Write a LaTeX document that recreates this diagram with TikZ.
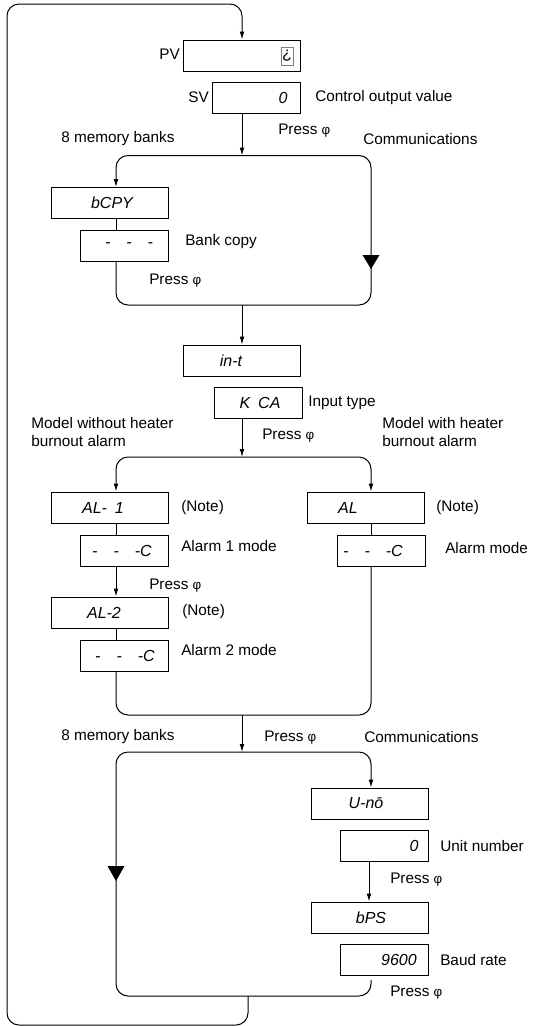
\documentclass[tikz,border=0pt]{standalone}
\usepackage{fontspec}
\setmainfont{Liberation Sans}
\newfontfamily\segfont{Liberation Sans}
\usetikzlibrary{arrows.meta}
\newcommand{\keysym}{{\fontsize{10}{10}\selectfont φ}}
\begin{document}
\begin{tikzpicture}[x=0.75pt,y=-0.75pt,
  font=\fontsize{11.5}{13.5}\selectfont,
  box/.style={draw, line width=0.75pt, inner sep=0pt, minimum height={31*0.75pt}},
  wbox/.style={box, minimum width={117*0.75pt}},
  nbox/.style={box, minimum width={88*0.75pt}},
  seg/.style={inner sep=0pt, font=\segfont\itshape\fontsize{12}{12}\selectfont},
  lbl/.style={inner sep=0pt, anchor=west},
  conn/.style={line width=0.75pt, rounded corners=9pt},
  arr/.style={conn, -{Latex[length=6pt,width=3.6pt]}},
  bigtri/.style={fill=black}
]
\useasboundingbox (0,0) rectangle (543,1026);

% ---------- boxes ----------
\node[wbox] (PV) at (242,55.5) {};
\node[draw=gray, line width=0.6pt, inner sep=0pt, minimum width={12*0.75pt}, minimum height={18*0.75pt}, font=\fontsize{12}{12}\selectfont] (icon) at (287,56) {¿};
\node[nbox] (SV) at (256,98) {};
\node[seg] (SVv) at (283,98) {0};

\node[wbox] (bCPY) at (109.5,203) {};
\node[seg] (bCPYt) at (112,203) {bCPY};
\node[nbox] (bank) at (124.5,245.5) {};
\node[seg] (bankt) at (129,245.5) {-\quad-\quad-};

\node[wbox] (int) at (242,360.5) {};
\node[seg] (intt) at (231,360.5) {in-t};
\node[nbox] (KCA) at (258,403) {};
\node[seg] (KCAt) at (260,403) {K\enspace CA};

\node[wbox] (AL1) at (109.5,507.5) {};
\node[seg] (AL1t) at (103,507.5) {AL-\enspace 1};
\node[nbox] (AC1) at (124.5,550.5) {};
\node[seg] (AC1t) at (122,550.5) {-\quad-\quad-C};
\node[wbox] (AL) at (366,507.5) {};
\node[seg] (ALt) at (348,507.5) {AL};
\node[nbox] (ACr) at (381,550.5) {};
\node[seg] (ACrt) at (373,550.5) {-\quad-\quad-C};
\node[wbox] (AL2) at (109.5,612.5) {};
\node[seg] (AL2t) at (104,612.5) {AL-2};
\node[nbox] (AC2) at (124.5,655.5) {};
\node[seg] (AC2t) at (125,655.5) {-\quad-\quad-C};

\node[wbox] (Uno) at (369.5,803.5) {};
\node[seg] (Unot) at (366,803.5) {U-nō};
\node[nbox] (Unum) at (384,845.5) {};
\node[seg] (Unumt) at (414,845.5) {0};
\node[wbox] (bPS) at (369.5,917.5) {};
\node[seg] (bPSt) at (371,917.5) {bPS};
\node[nbox] (baud) at (384,959.5) {};
\node[seg] (baudt) at (399,959.5) {9600};

% ---------- labels ----------
\node[inner sep=0pt, anchor=east] (lPV) at (180,54) {PV};
\node[inner sep=0pt, anchor=east] (lSV) at (209,97) {SV};
\node[lbl] (l1) at (315,98) {Control output value};
\node[lbl] (p1) at (278,131) {Press \keysym};
\node[lbl] (m1) at (61,139) {8 memory banks};
\node[lbl] (c1) at (363,139) {Communications};
\node[lbl] (l2) at (185,242) {Bank copy};
\node[lbl] (p2) at (149,281) {Press \keysym};
\node[lbl] (l3) at (308,403) {Input type};
\node[lbl, align=left] (l4) at (31,432) {Model without heater\\burnout alarm};
\node[lbl] (p3) at (262,436) {Press \keysym};
\node[lbl, align=left] (l5) at (382,432) {Model with heater\\burnout alarm};
\node[lbl] (n1) at (181,508) {(Note)};
\node[lbl] (n2) at (436,508) {(Note)};
\node[lbl] (l6) at (181,546) {Alarm 1 mode};
\node[lbl] (l7) at (445,548) {Alarm mode};
\node[lbl] (p4) at (149,586) {Press \keysym};
\node[lbl] (n3) at (182,612) {(Note)};
\node[lbl] (l8) at (181,650) {Alarm 2 mode};
\node[lbl] (m2) at (61,737) {8 memory banks};
\node[lbl] (p5) at (264,738) {Press \keysym};
\node[lbl] (c2) at (364,737) {Communications};
\node[lbl] (l9) at (440,846) {Unit number};
\node[lbl] (p6) at (390,880) {Press \keysym};
\node[lbl] (l10) at (440,960) {Baud rate};
\node[lbl] (p7) at (390,993) {Press \keysym};

% ---------- coordinates ----------
\coordinate (t1) at (242,155.5);
\coordinate (t1l) at (116,155.5);
\coordinate (t1r) at (371,155.5);
\coordinate (b1l) at (116,305);
\coordinate (b1r) at (371,305);
\coordinate (b1) at (242,305);
\coordinate (t2) at (242,457);
\coordinate (t2l) at (116,457);
\coordinate (t2r) at (371,457);
\coordinate (b2l) at (116,715);
\coordinate (b2r) at (371,715);
\coordinate (b2) at (242,715);
\coordinate (t3) at (242,752);
\coordinate (t3l) at (116,752);
\coordinate (t3r) at (371,752);
\coordinate (r3s) at (371,980);
\coordinate (b3r) at (371,996);
\coordinate (b3l) at (116,996);
\coordinate (b3) at (248,996);
\coordinate (cx) at (369,0);
\coordinate (o1) at (248,1025);
\coordinate (o2) at (7,1025);
\coordinate (o3) at (7,4);
\coordinate (o4) at (242,4);

% ---------- connectors ----------
\draw[arr] (b3) -- (o1) -- (o2) -- (o3) -- (o4) -- (PV.north);
\draw[arr] (SV.south -| t1) -- (t1);
\draw[arr] (t1) -- (t1l) -- (bCPY.north -| t1l);
\draw[conn] (bCPY.south -| t1l) -- (bank.north -| t1l);
\draw[conn] (t1) -- (t1r) -- (b1r) -- (b1l) -- (bank.south -| t1l);
\fill[bigtri] (362.5,255) -- (379.5,255) -- (371,269) -- cycle;
\draw[arr] (b1) -- (int.north);

\draw[arr] (KCA.south -| t2) -- (t2);
\draw[arr] (t2) -- (t2l) -- (AL1.north -| t2l);
\draw[arr] (t2) -- (t2r) -- (AL.north -| t2r);
\draw[conn] (AL1.south -| t2l) -- (AC1.north -| t2l);
\draw[arr] (AC1.south -| t2l) -- (AL2.north -| t2l);
\draw[conn] (AL2.south -| t2l) -- (AC2.north -| t2l);
\draw[conn] (AL.south -| t2r) -- (ACr.north -| t2r);
\draw[conn] (AC2.south -| t2l) -- (b2l) -- (b2r) -- (ACr.south -| t2r);
\draw[arr] (b2) -- (t3);

\draw[arr] (t3) -- (t3r) -- (Uno.north -| t3r);
\draw[arr] (Unum.south -| cx) -- (bPS.north -| cx);
\draw[conn] (r3s) -- (b3r) -- (b3l) -- (t3l) -- (t3);
\fill[bigtri] (107.5,866) -- (124.5,866) -- (116,881) -- cycle;
\end{tikzpicture}
\end{document}
